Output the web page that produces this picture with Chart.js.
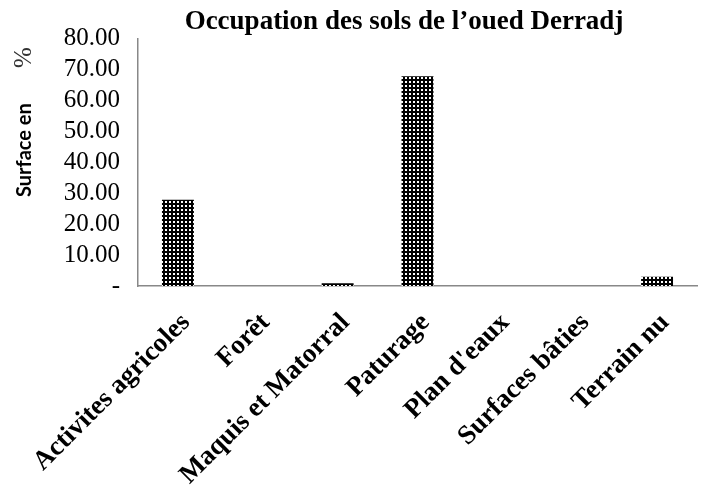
<!DOCTYPE html>
<html>
<head>
<meta charset="utf-8">
<script src="https://cdn.jsdelivr.net/npm/chart.js@4.4.1/dist/chart.umd.min.js"></script>
<style>
    body { margin: 0; background: #fff; }
    #wrap { width: 703px; height: 489px; }
</style>
</head>
<body>
<div id="wrap"><canvas id="landChart" width="703" height="489"></canvas></div>
<script>
const categories = ["Activites agricoles", "Forêt", "Maquis et Matorral", "Paturage", "Plan d'eaux", "Surfaces bâties", "Terrain nu"];
const surfaces = [27.9, 0, 0.9, 67.8, 0, 0, 3.0];
const yTicks = [0, 10, 20, 30, 40, 50, 60, 70, 80];

// black fill with small white dots, like the excel pattern
function makeDotPattern() {
    const c = document.createElement("canvas");
    c.width = 4;
    c.height = 4;
    const g = c.getContext("2d");
    g.fillStyle = "#000";
    g.fillRect(0, 0, 4, 4);
    g.fillStyle = "#fff";
    g.fillRect(1, 1, 2, 2);
    return g.createPattern(c, "repeat");
}

const yTitlePlugin = {
    id: "yTitle",
    afterDraw(chart) {
        const ctx = chart.ctx;
        ctx.save();
        ctx.translate(25, 197);
        ctx.rotate(-Math.PI / 2);
        ctx.textBaseline = "middle";
        ctx.textAlign = "left";
        ctx.fillStyle = "#000";
        ctx.font = "bold 20px Lato";
        ctx.fillText("Surface en", 0, 0);
        ctx.font = "25px 'Liberation Serif'";
        ctx.fillStyle = "#333";
        ctx.fillText("%", 129, -1);
        ctx.restore();
    }
};

new Chart(document.getElementById("landChart"), {
    type: "bar",
    data: {
        labels: categories,
        datasets: [{
            data: surfaces,
            backgroundColor: makeDotPattern(),
            borderColor: "#000",
            borderWidth: 0,
            barPercentage: 0.4,
            categoryPercentage: 1
        }]
    },
    options: {
        responsive: false,
        animation: false,
        layout: {
            padding: { left: 0, right: 6, top: 0, bottom: 0 }
        },
        plugins: {
            legend: { display: false },
            tooltip: { enabled: false },
            title: {
                display: true,
                text: "Occupation des sols de l\u2019oued Derradj\u00a0\u00a0\u00a0\u00a0",
                color: "#000",
                font: { family: "Liberation Serif", size: 27, weight: "bold" },
                padding: { top: 6, bottom: 0 },
                fullSize: false
            }
        },
        scales: {
            x: {
                grid: { display: false, drawTicks: false },
                border: { color: "#888", width: 1.5 },
                ticks: {
                    color: "#000",
                    font: { family: "Liberation Serif", size: 27, weight: "bold" },
                    minRotation: 45,
                    maxRotation: 45,
                    autoSkip: false,
                    padding: 21,
                    labelOffset: 8
                },
                afterFit(scale) {
                    scale.height = 203;
                    // labels may hang into the y axis area, like excel
                    scale.paddingLeft = 0;
                    scale.paddingRight = 0;
                }
            },
            y: {
                min: 0,
                max: 80,
                afterBuildTicks(scale) {
                    scale.ticks = yTicks.map(v => ({ value: v }));
                },
                grid: { display: false, drawTicks: false },
                border: { color: "#888", width: 1.5 },
                ticks: {
                    color: "#000",
                    font: { family: "Liberation Serif", size: 25 },
                    padding: 18,
                    autoSkip: false,
                    callback: v => v === 0 ? "-" : v.toFixed(2)
                },
                afterFit(scale) { scale.width = 138; }
            }
        }
    },
    plugins: [yTitlePlugin]
});
</script>
</body>
</html>
